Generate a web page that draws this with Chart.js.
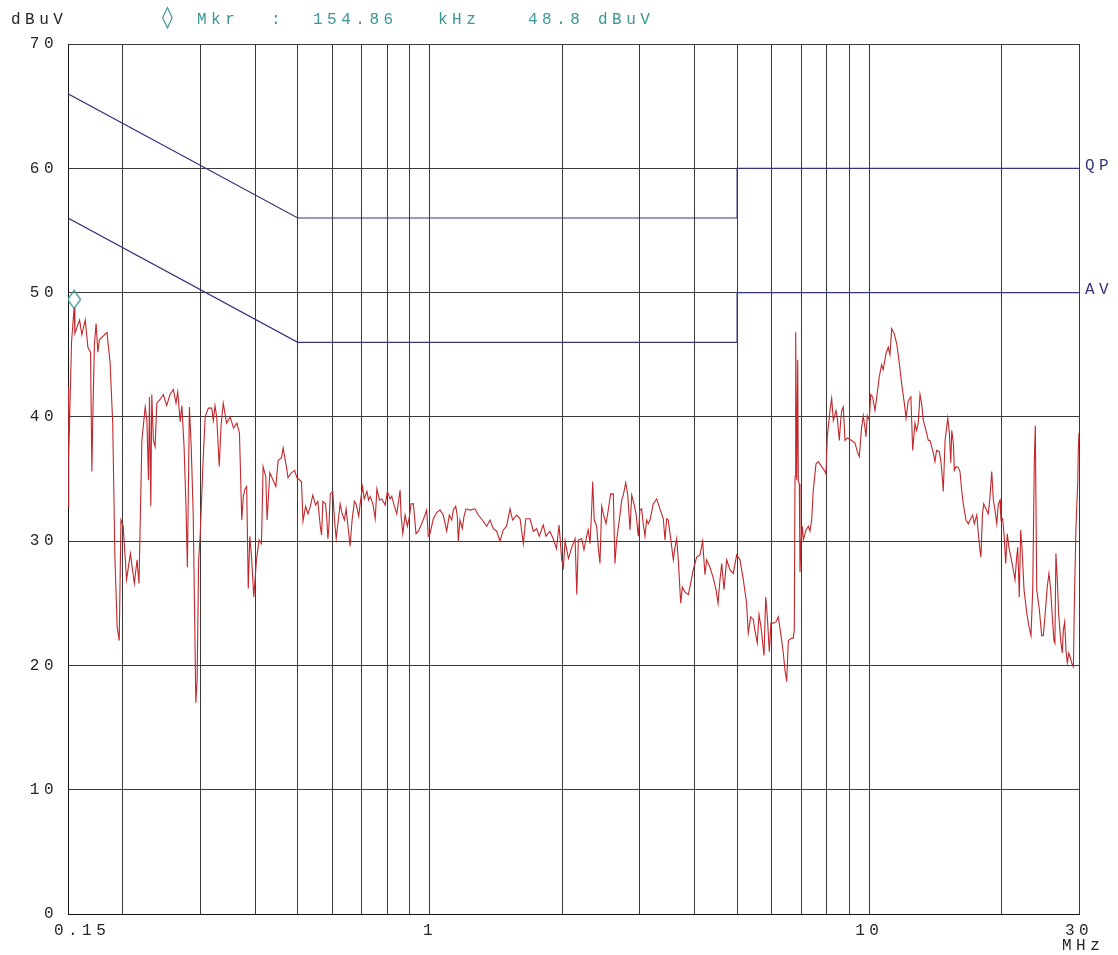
<!DOCTYPE html>
<html>
<head>
<meta charset="utf-8">
<title>Conducted emission 0.15 - 30 MHz</title>
<script src="https://cdn.jsdelivr.net/npm/chart.js@4.4.1/dist/chart.umd.min.js"></script>
<style>
  html, body { margin: 0; padding: 0; background: #fff; }
  #wrap { position: relative; width: 1118px; height: 955px; }
</style>
</head>
<body>
<div id="wrap"><canvas id="chartEmision"></canvas></div>
<script>
// =============================
// DATOS
// =============================
// frecuencia (MHz) y nivel medido (dBuV) de la traza
const freqMHz = [
  0.150, 0.1503, 0.1507, 0.1528, 0.1549, 0.1555, 0.1594, 0.1613, 0.1642, 0.1665,
  0.1688, 0.1700, 0.1709, 0.1723, 0.1738, 0.1754, 0.1768, 0.1840, 0.187, 0.1896,
  0.1918, 0.1941, 0.1962, 0.1980, 0.2003, 0.2039, 0.208, 0.2124, 0.2154, 0.2176,
  0.2209, 0.2248, 0.2268, 0.2287, 0.2299, 0.2315, 0.2327, 0.2347, 0.2368, 0.2389,
  0.243, 0.2473, 0.2516, 0.256, 0.2605, 0.2642, 0.2666, 0.270, 0.2724, 0.2756,
  0.2785, 0.2804, 0.2834, 0.2861, 0.2891, 0.2911, 0.2931, 0.2951, 0.2975, 0.300,
  0.3041, 0.3078, 0.3130, 0.3186, 0.3213, 0.3241, 0.3270, 0.3314, 0.3344, 0.3384,
  0.3444, 0.351, 0.3571, 0.3635, 0.3684, 0.3729, 0.3760, 0.3793, 0.3826, 0.3858,
  0.389, 0.3925, 0.3972, 0.4028, 0.4083, 0.4135, 0.4170, 0.4229, 0.4258, 0.432,
  0.4395, 0.4458, 0.4512, 0.4592, 0.4631, 0.4712, 0.4752, 0.4836, 0.4919, 0.4978,
  0.5098, 0.514, 0.521, 0.5277, 0.534, 0.541, 0.549, 0.5556, 0.5627, 0.5665,
  0.5704, 0.5785, 0.5825, 0.5856, 0.5887, 0.593, 0.6008, 0.6062, 0.6116, 0.620,
  0.6244, 0.6310, 0.6386, 0.6442, 0.6497, 0.6578, 0.6648, 0.6729, 0.6789, 0.6883,
  0.6934, 0.7022, 0.7084, 0.7185, 0.7246, 0.7310, 0.7414, 0.7504, 0.7571, 0.7675,
  0.7772, 0.7908, 0.800, 0.8113, 0.8185, 0.8285, 0.8402, 0.855, 0.8595, 0.8672,
  0.8777, 0.8884, 0.898, 0.9057, 0.9167, 0.9294, 0.9406, 0.9574, 0.9742, 0.9829,
  0.9911, 1.000, 1.0175, 1.0357, 1.0538, 1.0723, 1.0914, 1.1065, 1.1205, 1.1299,
  1.1443, 1.154, 1.160, 1.170, 1.1845, 1.1952, 1.2078, 1.2333, 1.2658, 1.288,
  1.322, 1.346, 1.370, 1.393, 1.418, 1.443, 1.468, 1.494, 1.521, 1.542,
  1.575, 1.603, 1.631, 1.652, 1.689, 1.719, 1.749, 1.773, 1.810, 1.836,
  1.874, 1.907, 1.940, 1.967, 1.994, 2.012, 2.030, 2.048, 2.066, 2.102,
  2.139, 2.158, 2.176, 2.214, 2.241, 2.273, 2.292, 2.313, 2.333, 2.346,
  2.365, 2.395, 2.416, 2.437, 2.459, 2.480, 2.515, 2.545, 2.577, 2.613,
  2.636, 2.660, 2.697, 2.731, 2.754, 2.789, 2.818, 2.852, 2.878, 2.913,
  2.944, 2.979, 3.005, 3.032, 3.057, 3.085, 3.112, 3.139, 3.167, 3.222,
  3.280, 3.337, 3.396, 3.426, 3.457, 3.486, 3.530, 3.579, 3.611, 3.643,
  3.674, 3.720, 3.752, 3.805, 3.872, 3.920, 3.973, 4.009, 4.044, 4.116,
  4.174, 4.225, 4.262, 4.338, 4.414, 4.477, 4.524, 4.571, 4.612, 4.668,
  4.734, 4.817, 4.901, 4.988, 5.076, 5.165, 5.256, 5.300, 5.369, 5.442,
  5.491, 5.558, 5.608, 5.667, 5.757, 5.809, 5.858, 5.920, 5.971, 6.044,
  6.130, 6.204, 6.283, 6.370, 6.427, 6.485, 6.540, 6.656, 6.712, 6.747,
  6.773, 6.797, 6.833, 6.869, 6.891, 6.927, 6.952, 6.988, 7.036, 7.073,
  7.175, 7.262, 7.325, 7.390, 7.453, 7.559, 7.651, 7.789, 7.925, 7.967,
  8.021, 8.136, 8.208, 8.278, 8.396, 8.453, 8.543, 8.606, 8.650, 8.724,
  8.802, 8.908, 9.115, 9.275, 9.387, 9.487, 9.604, 9.686, 9.772, 9.824,
  9.890, 9.995, 10.07, 10.17, 10.30, 10.42, 10.53, 10.66, 10.75, 10.91,
  11.04, 11.14, 11.24, 11.39, 11.54, 11.70, 11.84, 11.99, 12.12, 12.26,
  12.43, 12.55, 12.70, 12.81, 12.92, 13.04, 13.16, 13.27, 13.46, 13.62,
  13.74, 13.98, 14.10, 14.22, 14.43, 14.56, 14.69, 14.73, 14.87, 15.00,
  15.08, 15.21, 15.32, 15.40, 15.53, 15.61, 15.75, 15.94, 16.08, 16.22,
  16.36, 16.59, 16.80, 17.00, 17.18, 17.33, 17.56, 17.70, 17.85, 17.94,
  18.09, 18.21, 18.47, 18.65, 18.82, 18.99, 19.15, 19.32, 19.50, 19.66,
  19.83, 19.93, 20.11, 20.25, 20.43, 20.60, 20.78, 21.00, 21.26, 21.45,
  21.64, 21.76, 21.94, 22.10, 22.25, 22.49, 22.82, 23.09, 23.33, 23.54,
  23.74, 23.86, 24.04, 24.37, 24.67, 24.88, 25.09, 25.40, 25.63, 25.86,
  26.08, 26.31, 26.44, 26.58, 26.76, 26.96, 27.26, 27.48, 27.63, 27.83,
  28.02, 28.22, 28.43, 28.62, 28.87, 29.13, 29.28, 29.53, 29.80, 29.89,
  30.0
];
const levelDbuv = [
  32.8, 42.4, 36.5, 46.0, 48.8, 46.7, 47.8, 46.6, 47.8, 45.6,
  45.2, 35.6, 40.3, 45.9, 47.5, 45.2, 46.2, 46.8, 44.4, 39.5,
  28.7, 23.1, 22.0, 31.7, 31.2, 26.9, 29.0, 26.6, 28.5, 26.6,
  38.1, 40.8, 39.7, 34.9, 41.6, 32.8, 41.8, 38.1, 37.6, 41.1,
  41.4, 41.8, 40.9, 41.8, 42.2, 41.1, 42.0, 39.6, 40.9, 37.6,
  32.5, 27.9, 40.8, 37.6, 32.2, 24.7, 17.0, 18.8, 28.5, 30.6,
  36.0, 40.0, 40.7, 40.7, 39.7, 40.9, 40.0, 36.0, 39.2, 41.1,
  39.5, 40.0, 39.1, 39.5, 38.7, 31.7, 33.6, 34.2, 34.4, 26.2,
  30.4, 28.7, 25.5, 28.5, 30.1, 29.8, 36.0, 35.2, 31.7, 35.5,
  34.9, 34.4, 36.5, 36.7, 37.5, 36.0, 35.1, 35.5, 35.7, 35.1,
  34.8, 31.6, 32.8, 32.2, 32.8, 33.7, 32.9, 33.2, 31.2, 30.5,
  33.2, 33.0, 31.7, 30.2, 31.2, 33.8, 34.0, 31.7, 30.2, 32.0,
  33.0, 32.2, 31.7, 32.6, 31.4, 29.6, 31.7, 33.2, 33.0, 32.0,
  33.0, 34.4, 33.4, 34.0, 33.3, 33.6, 33.0, 31.8, 34.2, 33.3,
  33.4, 32.9, 34.0, 33.4, 33.6, 32.9, 32.2, 34.1, 32.0, 30.6,
  32.1, 31.2, 32.0, 33.0, 33.0, 30.6, 30.8, 31.4, 32.1, 32.5,
  30.4, 30.6, 31.8, 32.3, 32.5, 32.1, 30.8, 32.1, 31.7, 32.5,
  32.8, 32.0, 30.0, 31.7, 31.0, 32.0, 32.6, 32.5, 32.6, 32.1,
  31.6, 31.2, 31.7, 31.0, 30.8, 30.0, 30.9, 31.2, 32.6, 31.7,
  32.1, 31.8, 29.8, 31.8, 31.8, 30.8, 31.0, 30.4, 31.3, 30.4,
  30.8, 30.2, 29.4, 31.3, 28.5, 27.9, 30.0, 29.3, 28.6, 29.5,
  30.2, 25.7, 30.1, 30.2, 29.3, 30.4, 30.9, 29.8, 32.5, 34.8,
  31.7, 31.2, 29.5, 28.2, 32.8, 32.2, 31.4, 32.5, 33.8, 33.8,
  28.2, 30.1, 31.7, 33.3, 33.7, 34.7, 33.8, 30.9, 33.7, 33.0,
  32.2, 30.4, 32.5, 32.6, 31.4, 30.4, 31.7, 31.4, 31.7, 33.0,
  33.4, 32.6, 31.8, 30.1, 31.8, 31.7, 30.2, 28.5, 29.5, 30.2,
  28.5, 25.0, 26.3, 25.9, 25.7, 26.6, 27.7, 28.2, 28.7, 28.9,
  30.0, 27.3, 28.5, 27.9, 27.0, 26.1, 25.0, 26.9, 28.2, 26.1,
  28.5, 27.7, 27.4, 28.9, 28.5, 26.9, 25.0, 22.6, 23.9, 23.7,
  22.8, 21.8, 24.1, 23.1, 20.8, 25.5, 23.9, 21.1, 23.4, 23.4,
  23.5, 23.9, 22.6, 21.0, 19.6, 18.7, 22.0, 22.2, 22.2, 22.9,
  35.2, 46.8, 34.9, 44.6, 34.8, 34.6, 27.5, 29.8, 31.2, 30.1,
  30.9, 31.2, 30.8, 31.7, 34.1, 36.2, 36.4, 36.0, 35.6, 35.4,
  38.4, 40.5, 41.5, 39.7, 40.5, 39.9, 38.1, 39.7, 40.5, 40.8,
  38.1, 38.3, 38.1, 37.9, 37.2, 36.8, 39.2, 40.1, 39.1, 38.4,
  40.1, 39.7, 41.8, 41.6, 40.5, 41.9, 43.2, 44.2, 43.8, 45.1,
  45.6, 45.0, 47.1, 46.7, 45.9, 44.3, 42.7, 41.3, 39.9, 41.3,
  41.6, 37.3, 39.5, 38.9, 39.5, 41.8, 41.0, 39.7, 38.9, 38.1,
  38.1, 37.1, 36.4, 37.3, 37.2, 36.3, 34.7, 34.0, 38.1, 39.2,
  39.9, 38.7, 36.3, 38.9, 37.9, 35.7, 36.0, 35.9, 35.6, 34.1,
  33.0, 31.7, 31.4, 31.8, 32.1, 31.4, 32.1, 30.6, 29.3, 28.7,
  32.2, 33.0, 32.5, 32.2, 33.6, 35.6, 33.3, 32.5, 31.4, 33.0,
  33.3, 31.7, 31.8, 30.6, 28.2, 30.6, 29.5, 28.7, 27.7, 26.9,
  28.7, 29.5, 25.5, 30.9, 29.5, 26.1, 24.2, 23.1, 22.4, 26.1,
  36.5, 39.3, 26.1, 24.5, 22.4, 22.4, 23.9, 26.3, 27.4, 26.1,
  23.9, 22.0, 21.8, 29.0, 27.1, 24.2, 22.0, 21.0, 22.8, 23.5,
  21.2, 20.2, 21.0, 20.7, 20.2, 19.9, 25.0, 31.2, 34.7, 37.3,
  38.7
];

// límites QP y AV (frecuencia, dBuV)
const limitFreqMHz = [0.15, 0.5, 5, 5, 30];
const limitQP = [66, 56, 56, 60, 60];
const limitAV = [56, 46, 46, 50, 50];

// marcador
const markerFreqMHz = 0.15486;
const markerLevel = 48.8;

// ejes
const xGridMHz = [0.15, 0.2, 0.3, 0.4, 0.5, 0.6, 0.7, 0.8, 0.9, 1, 2, 3, 4, 5, 6, 7, 8, 9, 10, 20, 30];
const xLabelMHz = [0.15, 1, 10, 30];
const yMin = 0, yMax = 70, yStep = 10;

// =============================
// ESTILO
// =============================
const monoFont = '"Liberation Mono", "DejaVu Sans Mono", monospace';
const textGray = '#262626';
const teal = '#3b9696';
const navy = '#34347f';
const spacing = '4.5px';

Chart.defaults.maintainAspectRatio = false;
Chart.defaults.responsive = true;
Chart.defaults.animation = false;

// rombo del marcador dibujado algo por encima del punto
function makeMarker() {
  const c = document.createElement('canvas');
  c.width = 18; c.height = 36;
  const g = c.getContext('2d');
  g.strokeStyle = teal;
  g.lineWidth = 1.3;
  g.beginPath();
  g.moveTo(9, 1); g.lineTo(15.5, 10); g.lineTo(9, 19); g.lineTo(2.5, 10);
  g.closePath();
  g.stroke();
  return c;
}

const toPts = (xs, ys) => xs.map((x, i) => ({ x: x, y: ys[i] }));

// textos extra: cabecera, unidades, QP / AV
const textosPlugin = {
  id: 'textos',
  beforeDraw(chart) {
    chart.ctx.letterSpacing = spacing;
  },
  afterDraw(chart) {
    const ctx = chart.ctx;
    const y = chart.scales.y;
    ctx.save();
    ctx.letterSpacing = spacing;
    ctx.textBaseline = 'middle';
    ctx.textAlign = 'left';
    ctx.font = '16px ' + monoFont;
    ctx.fillStyle = textGray;
    ctx.fillText('dBuV', 11, 20);
    ctx.fillText('MHz', 1062, 946);

    ctx.fillStyle = teal;
    ctx.fillText('Mkr', 197, 20);
    ctx.fillText(':', 271, 20);
    ctx.fillText('154.86', 313, 20);
    ctx.fillText('kHz', 438, 20);
    ctx.fillText('48.8', 528, 20);
    ctx.fillText('dBuV', 598, 20);
    ctx.letterSpacing = '0px';
    ctx.font = '22px "DejaVu Sans"';
    ctx.fillText('\u25CA', 162, 18);

    ctx.letterSpacing = spacing;
    ctx.font = '16px ' + monoFont;
    ctx.fillStyle = navy;
    ctx.fillText('QP', 1085, y.getPixelForValue(limitQP[4]) - 3);
    ctx.fillText('AV', 1085, y.getPixelForValue(limitAV[4]) - 3);
    ctx.restore();
  }
};

// =============================
// GRÁFICO
// =============================
const ctxEmision = document.getElementById('chartEmision');
new Chart(ctxEmision, {
  type: 'scatter',
  data: {
    datasets: [
      {
        label: 'Mkr',
        data: [{ x: markerFreqMHz, y: markerLevel }],
        pointStyle: makeMarker(),
        pointRadius: 9,
        showLine: false
      },
      {
        label: 'Traza',
        data: toPts(freqMHz, levelDbuv),
        showLine: true,
        borderColor: '#c2272b',
        borderWidth: 1.1,
        pointRadius: 0,
        tension: 0
      },
      {
        label: 'QP',
        data: toPts(limitFreqMHz, limitQP),
        showLine: true,
        borderColor: navy,
        borderWidth: 1.2,
        pointRadius: 0
      },
      {
        label: 'AV',
        data: toPts(limitFreqMHz, limitAV),
        showLine: true,
        borderColor: navy,
        borderWidth: 1.2,
        pointRadius: 0
      }
    ]
  },
  options: {
    devicePixelRatio: 1,
    layout: { padding: { top: 44, right: 39, bottom: 0, left: 0 } },
    plugins: {
      legend: { display: false },
      tooltip: { enabled: false }
    },
    scales: {
      x: {
        type: 'logarithmic',
        min: 0.15,
        max: 30,
        afterBuildTicks: s => { s.ticks = xGridMHz.map(v => ({ value: v })); },
        afterFit: s => { s.height = 41; },
        ticks: {
          autoSkip: false,
          maxRotation: 0,
          padding: 7,
          color: textGray,
          font: { family: monoFont, size: 16 },
          // la etiqueta 0.15 va algo desplazada a la derecha, como en el original
          callback: v => xLabelMHz.includes(v) ? (v === xLabelMHz[0] ? '  ' + v : String(v)) : ''
        },
        grid: { color: '#3a3a3a', lineWidth: 1, drawTicks: false },
        border: { color: '#111', width: 1 }
      },
      y: {
        min: yMin,
        max: yMax,
        afterFit: s => { s.width = 68; },
        ticks: {
          stepSize: yStep,
          padding: 10,
          color: textGray,
          font: { family: monoFont, size: 16 }
        },
        grid: { color: '#3a3a3a', lineWidth: 1, drawTicks: false },
        border: { color: '#111', width: 1 }
      }
    }
  },
  plugins: [textosPlugin]
});
</script>
</body>
</html>
